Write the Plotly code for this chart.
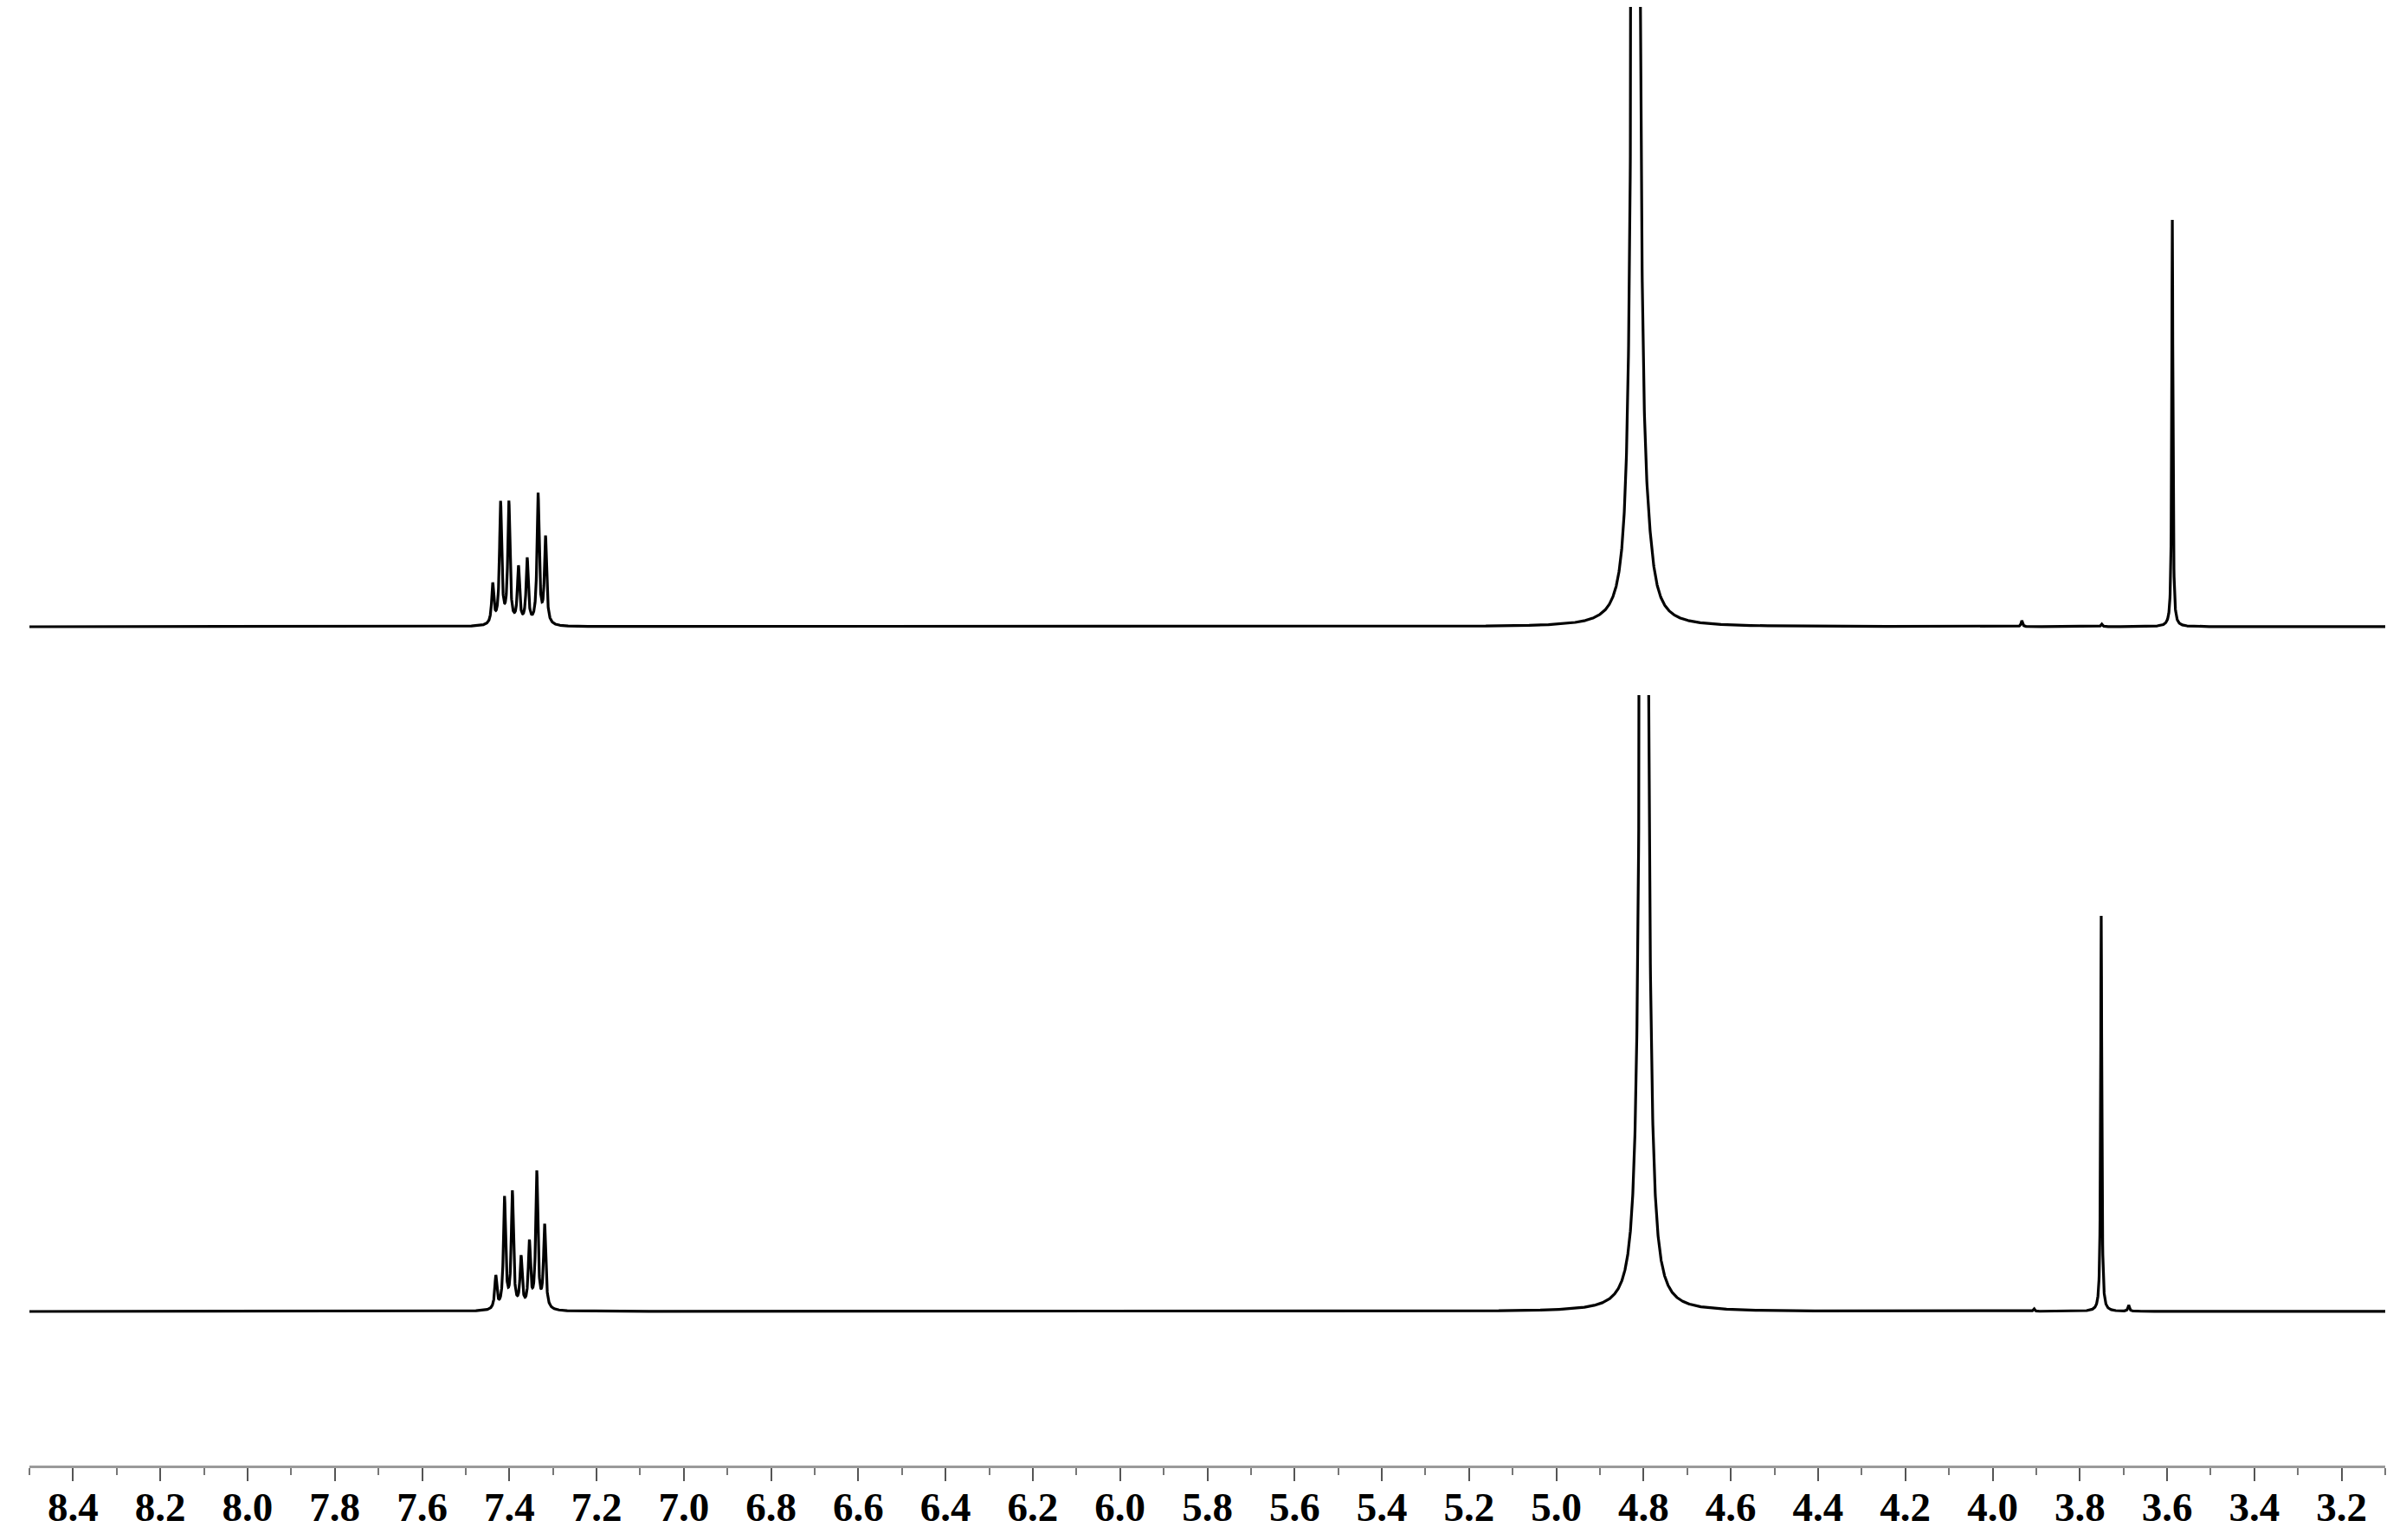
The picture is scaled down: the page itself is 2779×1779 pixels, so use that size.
import numpy as np
import plotly.graph_objects as go

# ---------------- data (peak lists) ----------------
# upper spectrum
top_ppm    = [7.438, 7.420, 7.401, 7.379, 7.359, 7.334, 7.317, 4.818, 4.790, 3.933, 3.750, 3.588]
top_height = [46, 140, 140, 65, 75, 150, 100, 5000, 30, 7, 3, 470]
top_width  = [0.006, 0.006, 0.006, 0.006, 0.006, 0.006, 0.006, 0.0086, 0.03, 0.004, 0.004, 0.003]

# lower spectrum
bot_ppm    = [7.431, 7.411, 7.393, 7.373, 7.354, 7.337, 7.319, 4.799, 3.905, 3.751, 3.688]
bot_height = [38, 128, 134, 58, 75, 157, 96, 5000, 3, 457, 7]
bot_width  = [0.006, 0.006, 0.006, 0.006, 0.006, 0.006, 0.006, 0.0086, 0.004, 0.003, 0.004]

x_range = [8.5, 3.1]
tick_vals = [8.4, 8.2, 8.0, 7.8, 7.6, 7.4, 7.2, 7.0, 6.8, 6.6, 6.4, 6.2, 6.0, 5.8, 5.6,
             5.4, 5.2, 5.0, 4.8, 4.6, 4.4, 4.2, 4.0, 3.8, 3.6, 3.4, 3.2]
tick_text = ["%.1f" % v for v in tick_vals]

# ---------------- build line shapes from peak lists ----------------
ppm = np.unique(np.concatenate([np.linspace(x_range[1], x_range[0], 16001),
                                np.array(top_ppm), np.array(bot_ppm)]))[::-1]


def spectrum(centers, heights, widths):
    y = np.zeros_like(ppm)
    for c, h, w in zip(centers, heights, widths):
        hw = w / 2.0
        y += h / (1.0 + ((ppm - c) / hw) ** 2)
    return y


y_top = spectrum(top_ppm, top_height, top_width)
y_bot = spectrum(bot_ppm, bot_height, bot_width)

fig = go.Figure()
fig.add_trace(go.Scatter(x=ppm, y=y_top, mode="lines", xaxis="x", yaxis="y2",
                         line=dict(color="black", width=3.2), showlegend=False,
                         hoverinfo="skip"))
fig.add_trace(go.Scatter(x=ppm, y=y_bot, mode="lines", xaxis="x", yaxis="y",
                         line=dict(color="black", width=3.2), showlegend=False,
                         hoverinfo="skip"))

W, H = 2779, 1779
# the page body adds an 8 px offset; margins compensate for it
off = 8
page_top, page_bottom, page_left, page_right = 8, 1693, 34, 2755
ml = page_left - off
mt = page_top - off
mr = W - (page_right - off)
mb = H - (page_bottom - off)
plot_h = H - mt - mb


def frac(page_y):
    return (page_bottom - page_y) / plot_h


fig.update_layout(
    width=W, height=H,
    margin=dict(l=ml, r=mr, t=mt, b=mb, autoexpand=False),
    paper_bgcolor="white", plot_bgcolor="white",
    xaxis=dict(
        range=x_range, anchor="y", showgrid=False, zeroline=False,
        showline=True, linecolor="#9a9a9a", linewidth=3,
        ticks="outside", ticklen=15, tickwidth=2, tickcolor="#555555",
        tickvals=tick_vals, ticktext=tick_text, ticklabelstandoff=-10,
        tickfont=dict(family="Liberation Serif", size=47, color="black",
                      weight="bold"),
        minor=dict(dtick=0.1, tick0=0, ticks="outside", ticklen=8,
                   tickwidth=2, tickcolor="#777777", showgrid=False),
    ),
    yaxis=dict(domain=[0, frac(803)], range=[-178, 712], visible=False,
               showgrid=False, zeroline=False),
    yaxis2=dict(domain=[frac(780), 1], range=[-56, 716], visible=False,
                showgrid=False, zeroline=False),
)

fig.write_html("out.html")
